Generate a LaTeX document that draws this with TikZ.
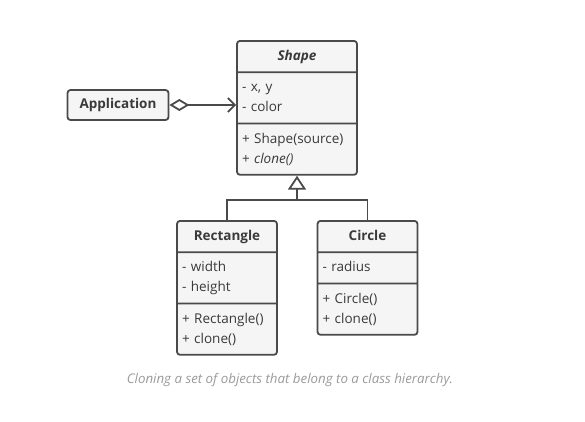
\documentclass[tikz,border=0pt]{standalone}
\usepackage{fontspec}
\setmainfont{Open Sans}
\usepackage{xcolor}
\usepackage{tikz}
\usetikzlibrary{shapes.multipart, arrows.meta, positioning}

\definecolor{umlline}{HTML}{4A4A4A}
\definecolor{umlfill}{HTML}{F5F5F5}
\definecolor{umltext}{HTML}{3A3A3A}
\definecolor{captext}{HTML}{9A9A9A}

\newcommand{\classtitle}[1]{\makebox[\hsize][c]{\strut\bfseries #1}}

\begin{document}
\begin{tikzpicture}[
    x=1pt, y=-1pt,
    umlclass/.style={rectangle split, rectangle split parts=3, draw=umlline, line width=1.8pt, fill=umlfill, rounded corners=3pt, text width=#1, inner xsep=5pt, inner ysep=4.75pt, align=left, text=umltext, font=\fontsize{13.5}{20}\selectfont, anchor=north},
    plainbox/.style={rectangle, draw=umlline, line width=1.8pt, fill=umlfill, rounded corners=3pt, minimum width=101pt, minimum height=30pt, text=umltext, font=\fontsize{13.5}{20}\selectfont\bfseries},
    link/.style={draw=umlline, line width=1.8pt},
    aggregation/.style={link, {Diamond[open, length=20pt, width=12pt, fill=white]}-{Straight Barb[length=7pt, width=14pt]}},
    inherit/.style={link, -{Triangle[open, length=14pt, width=18pt, fill=white]}}
]
\useasboundingbox (0,0) rectangle (585,421);

% Classes
\node (shape) [umlclass=110pt] at (297,40)
    {\classtitle{\itshape Shape}
     \nodepart{two}\strut- x, y\\- color\strut
     \nodepart{three}\strut+ Shape(source)\\+ \textit{clone()}\strut};
\node (rect) [umlclass=90pt] at (227,220)
    {\classtitle{Rectangle}
     \nodepart{two}\strut- width\\- height\strut
     \nodepart{three}\strut+ Rectangle()\\+ clone()\strut};
\node (circle) [umlclass=90pt] at (367.5,220)
    {\classtitle{Circle}
     \nodepart{two}\strut- radius\strut
     \nodepart{three}\strut+ Circle()\\+ clone()\strut};
\node (app) [plainbox] at (118,105) {Application};

% Caption
\node (caption) at (290,380) [text=captext, font=\fontsize{13.3}{15}\selectfont\itshape]
    {Cloning a set of objects that belong to a class hierarchy.};

% Connections
\coordinate (hub) at (297,200);
\draw [aggregation] (app.east) -- (app.east -| shape.west);
\draw [link] (rect.north) |- (hub) -| (circle.north);
\draw [inherit] (hub) -- (shape.south);

\end{tikzpicture}
\end{document}
